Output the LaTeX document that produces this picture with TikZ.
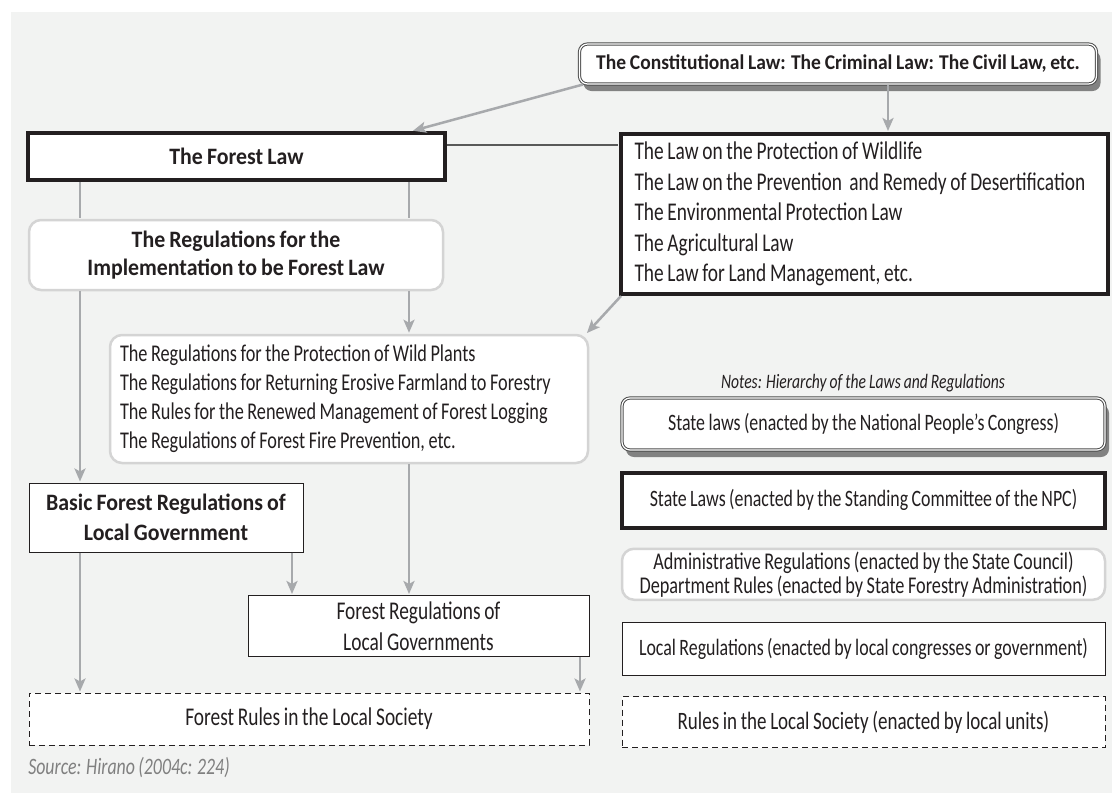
\documentclass[tikz,border=0pt]{standalone}
\usepackage{fontspec}
\setmainfont[FakeStretch=0.76,WordSpace=0.85,
             BoldFeatures={FakeStretch=0.93}]{Carlito}
\usepackage{tikz}
\usetikzlibrary{arrows.meta,shadows,positioning}
\definecolor{paper}{HTML}{F2F3F2}
\definecolor{ink}{HTML}{231F20}
\definecolor{pipe}{HTML}{A7A9AC}

\begin{document}
\begin{tikzpicture}[x=1pt,y=-1pt,>={Stealth[length=13pt,width=11pt,inset=3pt]},
                    shorten >=1pt,line width=2.5pt]
  \tikzstyle{every node}=[text=ink,align=center,inner sep=0pt,
                          font=\fontsize{23.5}{29}\selectfont]
  \tikzstyle{top}=[draw=black!70,fill=white,line width=1pt,double=white,
                   double distance=1.2pt,rounded corners=8pt,
                   drop shadow={shadow xshift=4pt,shadow yshift=-7pt,
                                opacity=.8,fill=black!60}]
  \tikzstyle{law}=[draw=ink,fill=white,line width=4pt]
  \tikzstyle{soft}=[draw=black!17,fill=white,line width=2.5pt,rounded corners=12pt]
  \tikzstyle{plain}=[draw=ink,fill=white,line width=1pt]
  \tikzstyle{rules}=[draw=ink,fill=white,line width=1pt,dash pattern=on 6pt off 4pt]
  \tikzstyle{bf}=[font=\fontsize{23.5}{28}\selectfont\bfseries]
  \tikzstyle{arr}=[draw=pipe,->]

  \fill[paper] (11,12) rectangle (1112,793);
  \useasboundingbox (0,0) rectangle (1112,793);

  % left column
  \node[top,minimum width=517pt,minimum height=40pt] (con) at (838,64)
       {\bfseries\fontsize{21}{24}\selectfont The Constitutional Law: The Criminal Law: The Civil Law, etc.};
  \node[law,bf,minimum width=417pt,minimum height=47pt] (forest) at (236.5,156.5) {The Forest Law};
  \node[law,minimum width=487pt,minimum height=160pt,text width=460pt,align=flush left,
        font=\fontsize{25.5}{30.5}\selectfont] (laws) at (864.5,214)
       {The Law on the Protection of Wildlife\\
        The Law on the Prevention\ \ and Remedy of Desertification\\
        The Environmental Protection Law\\
        The Agricultural Law\\
        The Law for Land Management, etc.};
  \node[soft,bf,minimum width=414pt,minimum height=70pt] (regs) at (236,255)
       {The Regulations for the\\Implementation to be Forest Law};
  \node[soft,minimum width=478pt,minimum height=128pt,text width=458pt,align=flush left,
        font=\fontsize{24}{29}\selectfont] (rules) at (349,399)
       {The Regulations for the Protection of Wild Plants\\
        The Regulations for Returning Erosive Farmland to Forestry\\
        The Rules for the Renewed Management of Forest Logging\\
        The Regulations of Forest Fire Prevention, etc.};
  \node[plain,bf,minimum width=274pt,minimum height=69pt,
        font=\fontsize{23.5}{30}\selectfont\bfseries] (basic) at (166,517.5)
       {Basic Forest Regulations of\\Local Government};
  \node[plain,minimum width=341pt,minimum height=61pt,
        font=\fontsize{25.5}{31}\selectfont] (local) at (418.5,626)
       {Forest Regulations of\\Local Governments};
  \node[rules,minimum width=560pt,minimum height=52pt,
        font=\fontsize{25.5}{29}\selectfont] (society) at (309,719)
       {Forest Rules in the Local Society};
  \node[anchor=west,text=black!50,font=\fontsize{23.5}{26}\selectfont\itshape] (src) at (27,768)
       {Source: Hirano (2004c: 224)};

  % legend
  \node[font=\fontsize{20.5}{24}\selectfont\itshape] (notes) at (863,383)
       {Notes: Hierarchy of the Laws and Regulations};
  \node[top,minimum width=483pt,minimum height=52pt] (k1) at (863.5,424)
       {State laws (enacted by the National People’s Congress)};
  \node[law,minimum width=483pt,minimum height=55pt,below=20pt of k1] (k2)
       {State Laws (enacted by the Standing Committee of the NPC)};
  \node[soft,minimum width=483pt,minimum height=51pt,below=18pt of k2,
        font=\fontsize{24}{24}\selectfont] (k3)
       {Administrative Regulations (enacted by the State Council)\\
        Department Rules (enacted by State Forestry Administration)};
  \node[plain,minimum width=483pt,minimum height=53pt,below=21pt of k3] (k4)
       {Local Regulations (enacted by local congresses or government)};
  \node[rules,minimum width=483pt,minimum height=51pt,below=20pt of k4,
        font=\fontsize{25}{29}\selectfont] (k5)
       {Rules in the Local Society (enacted by local units)};

  % connectors
  \coordinate (c1) at (80,0);
  \coordinate (c2) at (409,0);
  \coordinate (c3) at (292,0);
  \coordinate (c4) at (580,0);
  \coordinate (c5) at (888,0);
  \draw[arr] ([xshift=4pt]con.south west) -- ([xshift=-35pt]forest.north east);
  \draw[arr] (con.south -| c5) -- (laws.north -| c5);
  \draw[draw=black!65,line width=1.5pt] ([yshift=11.5pt]forest.east) coordinate (t) -- (t -| laws.west);
  \draw[draw=pipe] (forest.south -| c1) -- (regs.north -| c1);
  \draw[draw=pipe] (forest.south -| c2) -- (regs.north -| c2);
  \draw[arr] (regs.south -| c1) -- (basic.north -| c1);
  \draw[arr] (regs.south -| c2) -- (rules.north -| c2);
  \draw[arr] ([xshift=2pt]laws.south west) -- ([xshift=-3pt]rules.north east);
  \draw[arr] (rules.south -| c2) -- (local.north -| c2);
  \draw[arr] (basic.south -| c3) -- (local.north -| c3);
  \draw[arr] (basic.south -| c1) -- (society.north -| c1);
  \draw[arr] (local.south -| c4) -- (society.north -| c4);
\end{tikzpicture}
\end{document}
